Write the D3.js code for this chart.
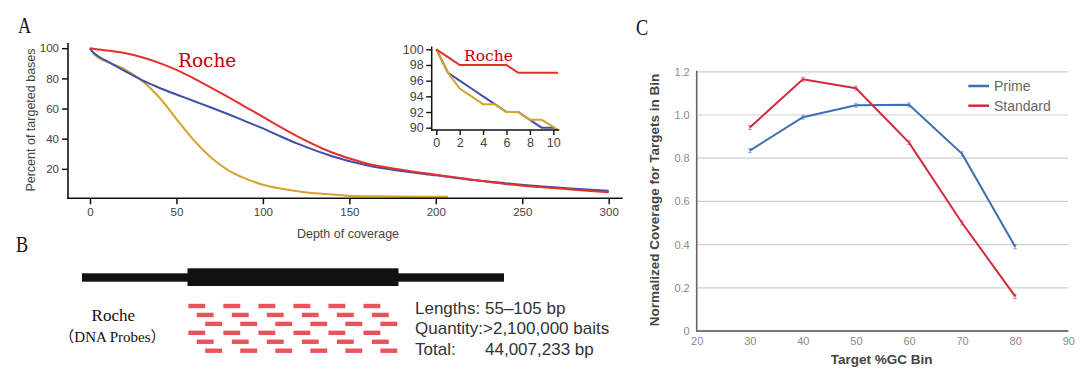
<!DOCTYPE html>
<html><head><meta charset="utf-8">
<script src="https://cdn.jsdelivr.net/npm/d3@7"></script>
<style>body{margin:0;background:#fff;} svg{display:block;}</style>
</head><body>
<svg id="chart" width="1080" height="377"></svg>
<script>
// ---------- Panel A: main coverage curves ----------
const depthA = [0,2,5,10,20,30,40,50,60,70,80,90,100,110,120,140,160,180,200,220,240,260,280,300];
const rocheA = [100,99.6,99.2,98.4,96.8,94,90.3,85.6,80,73.8,67.5,61,54.5,47.8,41.5,30.8,23.6,19.4,16.1,13,10,7.9,6.2,4.5];
const blueA  = [100,97,94.5,91.3,85,78.8,73.8,69.3,65,60.7,56.2,51.5,46.8,41.6,36.7,28.4,22.4,18.6,15.7,12.8,10.5,8.4,6.8,5.5];
const depthYellowA = [0,2,5,10,20,30,40,50,60,70,80,90,100,110,120,130,140,150,175,207];
const yellowA = [100,96.5,93.5,91,86,78.5,67.5,53,39,27.5,19,13.5,9.5,7,5.2,3.8,3,2,1.7,1.5];
const ticksAx = [0,50,100,150,200,250,300];
const ticksAy = [20,40,60,80,100];
// ---------- Panel A: inset ----------
const depthInset  = [0,1,2,3,4,5,6,7,8,9,10,10.4];
const rocheInset  = [100,99,98,98,98,98,98,97,97,97,97,97];
const blueInset   = [100,97,96,95,94,93,92,92,91,90,90,89.7];
const yellowInset = [100,97,95,94,93,93,92,92,91,91,90.1,89.7];
const ticksInsetX = [0,2,4,6,8,10];
const ticksInsetY = [90,92,94,96,98,100];
// ---------- Panel B: probe schematic ----------
const regionBounds = [0,25,75,100];          // flank start, target start, target end, flank end
const probeRowShift = [0,2,4,0,2,4];
const probeIndex = [0,1,2,3,4,5];
const probeStart = 25.2, probeStep = 8.3, probeLen = 4;
const baitLabels = ["Lengths:", "Quantity:", "Total:"];
const baitValues = ["55\u2013105 bp", ">2,100,000 baits", "44,007,233 bp"];
// ---------- Panel C: GC bias ----------
const gcBins   = [30,40,50,60,70,80];
const prime    = [0.835,0.99,1.045,1.047,0.82,0.39];
const standard = [0.942,1.165,1.124,0.872,0.5,0.16];
const ticksCx = [20,30,40,50,60,70,80,90];
const ticksCy = [0,0.2,0.4,0.6,0.8,1.0,1.2];

const svg = d3.select("#chart");
const sans = "'Liberation Sans', Arial, sans-serif";
const serif = "'Liberation Serif', 'Times New Roman', serif";
const RED = "#e5302b", BLUE = "#4050a8", GOLD = "#d6a330";

// panel letters
[["A",18,33.3],["B",16,252.3],["C",636,35]].forEach(([t,x,y])=>{
  svg.append("text").attr("transform",`translate(${x},${y}) scale(0.76,1)`)
    .attr("font-family",serif).attr("font-size",24).attr("fill","#111").text(t);
});

// ===== Panel A main =====
const xA = d3.scaleLinear().domain([0,300]).range([90,608.7]);
const yA = d3.scaleLinear().domain([0,100]).range([199,48.2]);
const gA = svg.append("g");
const lineA = (xs, ys) => d3.line().x((d,i)=>xA(xs[i])).y((d,i)=>yA(ys[i])).curve(d3.curveMonotoneX)(ys);
gA.append("path").attr("d", lineA(depthYellowA, yellowA)).attr("fill","none").attr("stroke",GOLD).attr("stroke-width",2);
gA.append("path").attr("d", lineA(depthA, blueA)).attr("fill","none").attr("stroke",BLUE).attr("stroke-width",2);
gA.append("path").attr("d", lineA(depthA, rocheA)).attr("fill","none").attr("stroke",RED).attr("stroke-width",2);

const axYA = gA.append("g").attr("transform","translate(68,0)")
  .call(d3.axisLeft(yA).tickValues(ticksAy).tickSize(6).tickPadding(3));
const axXA = gA.append("g").attr("transform","translate(0,198.3)")
  .call(d3.axisBottom(xA).tickValues(ticksAx).tickSize(6).tickPadding(4));
[axYA, axXA].forEach(a=>{
  a.select(".domain").remove();
  a.selectAll("line").attr("stroke","#111").attr("stroke-width",1.5);
  a.selectAll("text").attr("font-family",sans).attr("font-size",11.5).attr("fill","#444");
});
gA.append("line").attr("x1",68).attr("x2",68).attr("y1",43).attr("y2",199).attr("stroke","#111").attr("stroke-width",1.6);
gA.append("line").attr("x1",67.2).attr("x2",622.7).attr("y1",198.3).attr("y2",198.3).attr("stroke","#111").attr("stroke-width",1.6);
gA.append("text").attr("x",348).attr("y",237.5).attr("text-anchor","middle")
  .attr("font-family",sans).attr("font-size",12.5).attr("fill","#444").text("Depth of coverage");
gA.append("text").attr("transform","translate(34.5,120) rotate(-90)").attr("text-anchor","middle")
  .attr("font-family",sans).attr("font-size",12.5).attr("fill","#444").text("Percent of targeted bases");
gA.append("text").attr("x",178).attr("y",66.7).attr("font-family","'DejaVu Serif', serif")
  .attr("font-size",18.5).attr("fill","#c00000").text("Roche");

// ===== Panel A inset =====
const xI = d3.scaleLinear().domain([0,10]).range([436.3,553.3]);
const yI = d3.scaleLinear().domain([90,100]).range([127.7,49.3]);
const gI = svg.append("g");
const lineI = ys => d3.line().x((d,i)=>xI(depthInset[i])).y(d=>yI(d))(ys);
gI.append("path").attr("d", lineI(blueInset)).attr("fill","none").attr("stroke",BLUE).attr("stroke-width",2);
gI.append("path").attr("d", lineI(yellowInset)).attr("fill","none").attr("stroke",GOLD).attr("stroke-width",2);
gI.append("path").attr("d", lineI(rocheInset)).attr("fill","none").attr("stroke",RED).attr("stroke-width",2);
const axYI = gI.append("g").attr("transform","translate(431.7,0)")
  .call(d3.axisLeft(yI).tickValues(ticksInsetY).tickSize(5.5).tickPadding(2.5));
const axXI = gI.append("g").attr("transform","translate(0,130)")
  .call(d3.axisBottom(xI).tickValues(ticksInsetX).tickSize(5).tickPadding(3));
[axYI, axXI].forEach(a=>{
  a.select(".domain").remove();
  a.selectAll("line").attr("stroke","#111").attr("stroke-width",1.4);
  a.selectAll("text").attr("font-family",sans).attr("font-size",12.5).attr("fill","#444");
});
gI.append("line").attr("x1",431.7).attr("x2",431.7).attr("y1",46.5).attr("y2",130.7).attr("stroke","#111").attr("stroke-width",1.5);
gI.append("line").attr("x1",431).attr("x2",559.3).attr("y1",130).attr("y2",130).attr("stroke","#111").attr("stroke-width",1.5);
gI.append("text").attr("x",464).attr("y",60.7).attr("font-family","'DejaVu Serif', serif")
  .attr("font-size",15.5).attr("fill","#c00000").text("Roche");

// ===== Panel B =====
const xB = d3.scaleLinear().domain([0,100]).range([82,504]);
const gB = svg.append("g");
gB.append("rect").attr("x",xB(regionBounds[0])).attr("width",xB(regionBounds[3])-xB(regionBounds[0]))
  .attr("y",273.3).attr("height",8.4).attr("fill","#111");
gB.append("rect").attr("x",xB(regionBounds[1])).attr("width",xB(regionBounds[2])-xB(regionBounds[1]))
  .attr("y",268.3).attr("height",17.7).attr("fill","#111");
const yRow = d3.scalePoint().domain(d3.range(probeRowShift.length)).range([306,350.7]);
probeRowShift.forEach((shift,r)=>{
  gB.selectAll(null).data(probeIndex).enter().append("rect")
    .attr("x", i=>xB(probeStart+shift+i*probeStep))
    .attr("width", xB(probeLen)-xB(0))
    .attr("y", yRow(r)-2.2).attr("height",4.4).attr("fill","#e8545c");
});
gB.append("text").attr("x",113.3).attr("y",321).attr("text-anchor","middle")
  .attr("font-family",serif).attr("font-size",17).attr("fill","#111").text("Roche");
gB.append("text").attr("x",112.5).attr("y",342).attr("text-anchor","middle")
  .attr("font-family",serif+", 'Noto Sans CJK SC'").attr("font-size",15).attr("fill","#111").text("（DNA Probes）");
const yInfo = d3.scalePoint().domain(d3.range(baitLabels.length)).range([313.5,354.5]);
baitLabels.forEach((lab,i)=>{
  gB.append("text").attr("x",415).attr("y",yInfo(i)).attr("font-family",sans).attr("font-size",17).attr("fill","#333").text(lab);
  gB.append("text").attr("x", i===1 ? 483 : 485).attr("y",yInfo(i)).attr("font-family",sans).attr("font-size",17).attr("fill","#333").text(baitValues[i]);
});

// ===== Panel C =====
const xC = d3.scaleLinear().domain([20,90]).range([696.7,1068.3]);
const yC = d3.scaleLinear().domain([0,1.2]).range([331,71.8]);
const gC = svg.append("g");
gC.selectAll(".grid").data(ticksCy.filter(v=>v>0)).enter().append("line")
  .attr("x1",xC(20)).attr("x2",xC(90)).attr("y1",d=>yC(d)).attr("y2",d=>yC(d))
  .attr("stroke","#cfcfcf").attr("stroke-width",1.2);
const axYC = gC.append("g").attr("transform",`translate(${xC(20)},0)`)
  .call(d3.axisLeft(yC).tickValues(ticksCy).tickSize(0).tickPadding(7).tickFormat(d=>d===0?"0":d3.format(".1f")(d)));
const axXC = gC.append("g").attr("transform",`translate(0,${yC(0)})`)
  .call(d3.axisBottom(xC).tickValues(ticksCx).tickSize(0).tickPadding(6));
[axYC, axXC].forEach(a=>{
  a.select(".domain").remove();
  a.selectAll("text").attr("font-family",sans).attr("font-size",11).attr("fill","#8a8a8a");
});
gC.append("line").attr("x1",xC(20)).attr("x2",xC(20)).attr("y1",yC(1.2)-1).attr("y2",yC(0)+1).attr("stroke","#666").attr("stroke-width",1.6);
gC.append("line").attr("x1",xC(20)).attr("x2",xC(90)).attr("y1",yC(0)).attr("y2",yC(0)).attr("stroke","#777").attr("stroke-width",1.8);
const CBLUE = "#3d6fb6", CRED = "#d42a3e";
const lineC = ys => d3.line().x((d,i)=>xC(gcBins[i])).y(d=>yC(d))(ys);
gC.append("path").attr("d",lineC(prime)).attr("fill","none").attr("stroke",CBLUE).attr("stroke-width",2);
gC.append("path").attr("d",lineC(standard)).attr("fill","none").attr("stroke",CRED).attr("stroke-width",2);
[[prime,CBLUE],[standard,CRED]].forEach(([ys,c])=>{
  gC.selectAll(null).data(ys).enter().append("path")
    .attr("d",(d,i)=>`M${xC(gcBins[i])-1.8},${yC(d)-2}h3.6M${xC(gcBins[i])},${yC(d)-2}v4M${xC(gcBins[i])-1.8},${yC(d)+2}h3.6`)
    .attr("stroke",c).attr("stroke-width",0.8).attr("opacity",0.7).attr("fill","none");
});
gC.append("text").attr("x",881.7).attr("y",363.5).attr("text-anchor","middle")
  .attr("font-family",sans).attr("font-weight","bold").attr("font-size",13.5).attr("fill","#444").text("Target %GC Bin");
gC.append("text").attr("transform","translate(658.5,200) rotate(-90)").attr("text-anchor","middle")
  .attr("font-family",sans).attr("font-weight","bold").attr("font-size",13.5).attr("fill","#444").text("Normalized Coverage for Targets in Bin");
[["Prime",CBLUE,86],["Standard",CRED,105.7]].forEach(([t,c,y])=>{
  gC.append("line").attr("x1",968.3).attr("x2",989).attr("y1",y).attr("y2",y).attr("stroke",c).attr("stroke-width",2.5);
  gC.append("text").attr("x",994).attr("y",y).attr("dy","0.35em").attr("font-family",sans).attr("font-size",14).attr("fill","#666").text(t);
});
</script>
</body></html>
